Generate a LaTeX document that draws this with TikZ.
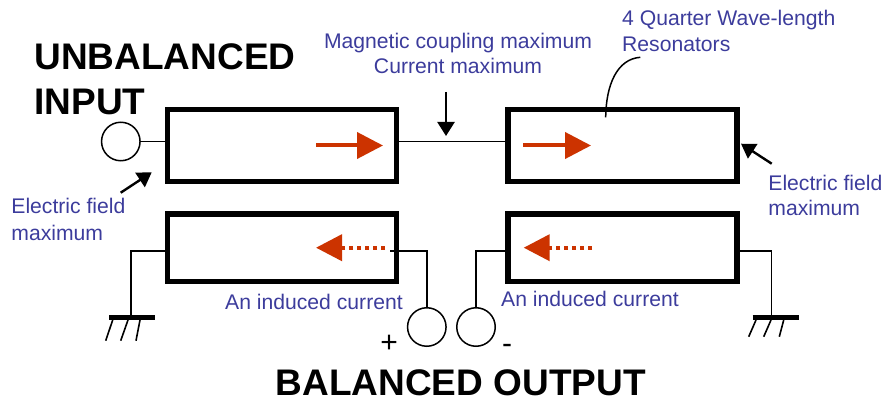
\documentclass[tikz,border=0pt]{standalone}
\usepackage{fontspec}
\setmainfont{Liberation Sans}
\usetikzlibrary{arrows.meta}
\definecolor{labelblue}{HTML}{3C3C9C}
\definecolor{currentred}{HTML}{CC3300}
\tikzset{
  x=1pt,y=-1pt,
  resonator/.style={draw=black,line width=5.5pt,fill=white,minimum width=229pt,minimum height=71.8pt,inner sep=0pt},
  lowres/.style={resonator,minimum height=67.5pt},
  port/.style={draw=black,circle,line width=1.5pt,minimum size=38.5pt,inner sep=0pt},
  wire/.style={draw=black,line width=1.5pt},
  lbl/.style={text=labelblue,font=\fontsize{21.15}{25}\selectfont,inner sep=0pt,anchor=base west},
  lblc/.style={lbl,anchor=base},
  title/.style={text=black,font=\fontsize{37}{40}\selectfont\bfseries,inner sep=0pt,anchor=base west},
  sign/.style={text=black,font=\fontsize{30}{32}\selectfont,inner sep=0pt,anchor=base},
  flow/.style={draw=currentred,line width=4pt,-{Triangle[length=26pt,width=26pt,fill=currentred]}},
  induced/.style={flow,dash pattern=on 4pt off 4pt},
  pointer/.style={draw=black,line width=2.4pt,-{Triangle[length=14pt,width=17pt]}},
  gbar/.style={draw=black,line width=5pt},
  ghatch/.style={draw=black,line width=1.6pt},
}
\begin{document}
\begin{tikzpicture}
\useasboundingbox (0,0) rectangle (882,398);
% resonators
\node[resonator] (b1) at (281.75,145.35) {};
\node[resonator] (b2) at (622.25,145.35) {};
\node[lowres] (b3) at (281.75,247.5) {};
\node[lowres] (b4) at (622.25,247.5) {};
% ports
\node[port] (cin) at (120.8,141.5) {};
\node[port] (cp) at (426.8,327) {};
\node[port] (cm) at (476,327) {};
% helpers
\coordinate (t1) at (0,141.5);
\coordinate (t2) at (0,251);
\coordinate (g1) at (131,317.7);
\coordinate (g1a) at (109,317.7);
\coordinate (g1b) at (155,317.7);
\coordinate (g2) at (771.7,317.7);
\coordinate (g2a) at (752.7,317.7);
\coordinate (g2b) at (798.7,317.7);
\coordinate (j3) at (390,251);
% wires
\draw[wire] (cin.east) -- (cin -| b1.west);
\draw[wire] (b1.east |- t1) -- (b2.west |- t1);
\draw[wire] (b3.west |- t2) -| (g1);
\draw[wire] (j3) -| (cp.north);
\draw[wire] (b4.west |- t2) -| (cm.north);
\draw[wire] (b4.east |- t2) -| (g2);
% grounds
\draw[gbar] (g1a) -- (g1b);
\draw[gbar] (g2a) -- (g2b);
\draw[ghatch] (112.7,320) -- (105.7,340.7);
\draw[ghatch] (128,320) -- (120.7,340.7);
\draw[ghatch] (140,320) -- (136,340.7);
\draw[ghatch] (756,320) -- (748.7,336.7);
\draw[ghatch] (771,320) -- (763.7,336.7);
\draw[ghatch] (783.7,320) -- (779.3,336.7);
% currents
\draw[flow] (316,145.5) -- (383,145.5);
\draw[flow] (523,145.5) -- (591,145.5);
\draw[induced] (385,247.7) -- (316,247.7);
\draw[induced] (592,247.7) -- (523.7,247.7);
% pointers
\coordinate (pa) at (446,92);
\coordinate (pb) at (446,136);
\draw[pointer] (pa) -- (pb);
\coordinate (pc) at (120.7,192.7);
\coordinate (pd) at (151.7,172.3);
\draw[pointer] (pc) -- (pd);
\coordinate (pe) at (771.7,163.7);
\coordinate (pf) at (741,143.7);
\draw[pointer] (pe) -- (pf);
\coordinate (qa) at (640.3,57.3);
\coordinate (qb) at (605.7,117.3);
\draw[wire] (qa) .. controls (617,59) and (606,85) .. (qb);
% labels
\node[title] (tu) at (34.3,69.3) {UNBALANCED};
\node[title] (ti) at (34.3,115) {INPUT};
\node[title] (tb) at (275.5,395.8) {BALANCED OUTPUT};
\node[lblc] (m1) at (458,49) {Magnetic coupling maximum};
\node[lblc] (m2) at (458,74) {Current maximum};
\node[lbl] (q1) at (622,26) {4 Quarter Wave-length};
\node[lbl] (q2) at (622,51.7) {Resonators};
\node[lbl] (e1) at (768.2,190) {Electric field};
\node[lbl] (e2) at (768.2,215) {maximum};
\node[lbl] (e3) at (11.2,213.3) {Electric field};
\node[lbl] (e4) at (11.2,240) {maximum};
\node[lbl] (i1) at (225,309) {An induced current};
\node[lbl] (i2) at (501,306.7) {An induced current};
\node[sign] (sp) at (389.2,352) {+};
\node[sign] (sm) at (507.2,353.5) {-};
\end{tikzpicture}
\end{document}
